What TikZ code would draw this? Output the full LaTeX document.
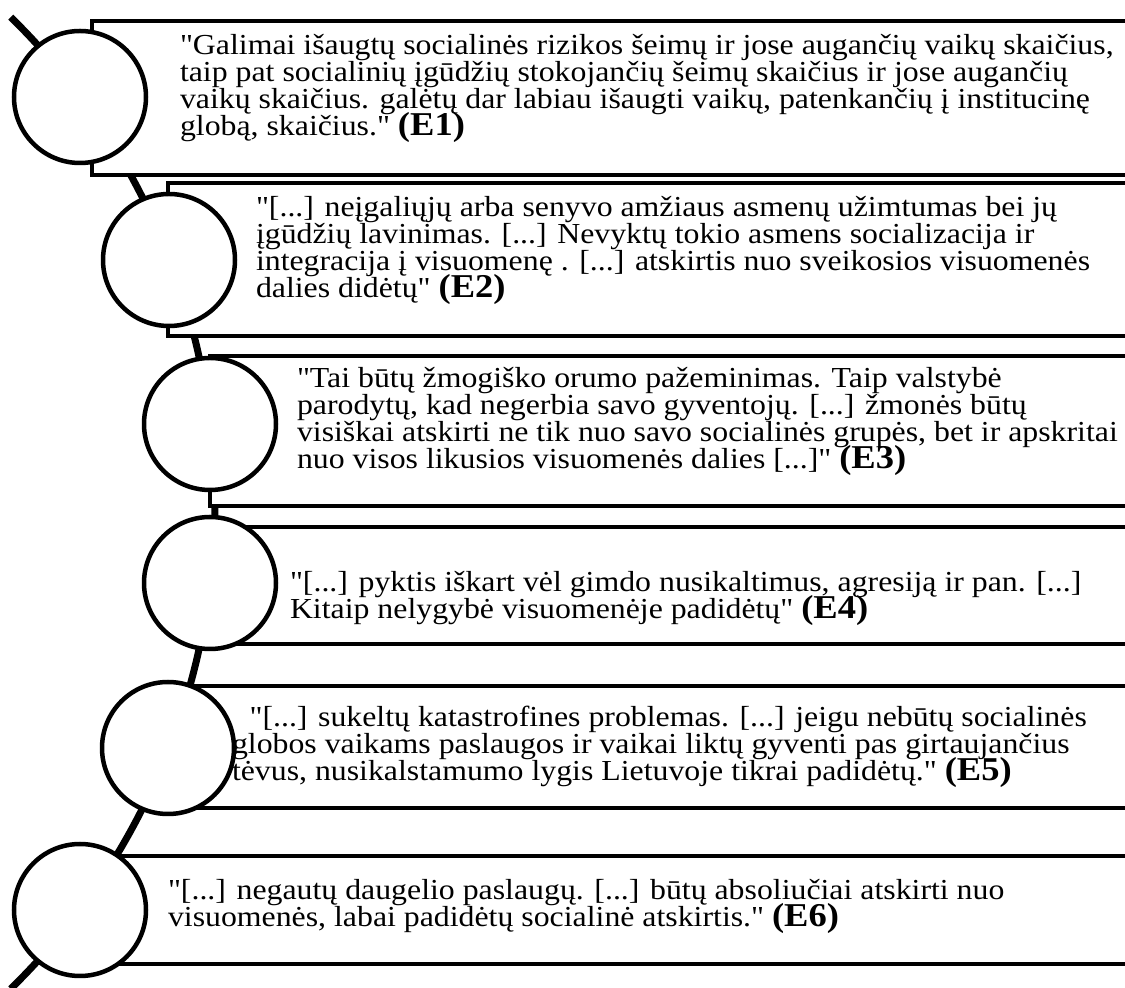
\documentclass[tikz,border=0pt]{standalone}
\usepackage{fontspec}
\newfontfamily\qfont{Liberation Serif}
\usepackage{graphicx}
\newcommand{\quotelines}[1]{\scalebox{1.097}[1]{\vtop{\hsize=1500pt\parindent=0pt\qfont\fontsize{29}{26.7}\selectfont\lineskiplimit=-100pt\lineskip=0pt\relax\leavevmode #1\par}}}
\newcommand{\eref}[1]{{\fontsize{33.3}{26.7}\selectfont\bfseries (#1)}}
\begin{document}
\begin{tikzpicture}[x=1pt,y=1pt,
  spine/.style={line width=7pt},
  quotebox/.style={draw, line width=4pt, fill=white, rectangle, inner sep=0pt, outer sep=0pt, anchor=north west},
  marker/.style={draw, line width=4.5pt, fill=white, circle, inner sep=0pt, outer sep=0pt, minimum size=132pt},
  quote/.style={anchor=base west, inner sep=0pt, outer sep=0pt}]
\useasboundingbox (0,0) rectangle (1125,988);
\clip (0,0) rectangle (1125,988);
\coordinate (spc) at (-465,485);
\draw[spine] (spc) ++(45.6:680pt) arc[start angle=45.6, end angle=-45.6, radius=680pt];
% boxes
\node[quotebox, minimum width=1048pt, minimum height=154pt] (b1) at (92,967) {};
\node[quotebox, minimum width=972pt, minimum height=153pt] (b2) at (168,805) {};
\node[quotebox, minimum width=930pt, minimum height=150pt] (b3) at (210,632) {};
\node[quotebox, minimum width=930pt, minimum height=117pt] (b4) at (210,461) {};
\node[quotebox, minimum width=972pt, minimum height=122pt] (b5) at (168,302) {};
\node[quotebox, minimum width=1048pt, minimum height=108pt] (b6) at (92,132) {};
% circles
\node[marker] (c1) at (80,891) {};
\node[marker] (c2) at (169,728) {};
\node[marker] (c3) at (210,564) {};
\node[marker] (c4) at (210,405) {};
\node[marker] (c5) at (168,240) {};
\node[marker] (c6) at (80,78) {};
% texts
\node[quote] (t1) at (180,933) {\quotelines{"Galimai išaugtų socialinės rizikos šeimų ir jose augančių vaikų skaičius,\\taip pat socialinių įgūdžių stokojančių šeimų skaičius ir jose augančių\\vaikų skaičius. galėtų dar labiau išaugti vaikų, patenkančių į institucinę\\globą, skaičius." \eref{E1}}};
\node[quote] (t2) at (256,771) {\quotelines{"[...] neįgaliųjų arba senyvo amžiaus asmenų užimtumas bei jų\\įgūdžių lavinimas. [...] Nevyktų tokio asmens socializacija ir\\integracija į visuomenę . [...] atskirtis nuo sveikosios visuomenės\\dalies didėtų" \eref{E2}}};
\node[quote] (t3) at (297,600) {\quotelines{"Tai būtų žmogiško orumo pažeminimas. Taip valstybė\\parodytų, kad negerbia savo gyventojų. [...] žmonės būtų\\visiškai atskirti ne tik nuo savo socialinės grupės, bet ir apskritai\\nuo visos likusios visuomenės dalies [...]" \eref{E3}}};
\node[quote] (t4) at (290,396) {\quotelines{"[...] pyktis iškart vėl gimdo nusikaltimus, agresiją ir pan. [...]\\Kitaip nelygybė visuomenėje padidėtų" \eref{E4}}};
\node[quote] (t5) at (232,261) {\quotelines{\hspace*{16pt}"[...] sukeltų katastrofines problemas. [...] jeigu nebūtų socialinės\\globos vaikams paslaugos ir vaikai liktų gyventi pas girtaujančius\\tėvus, nusikalstamumo lygis Lietuvoje tikrai padidėtų." \eref{E5}}};
\node[quote] (t6) at (168,88) {\quotelines{"[...] negautų daugelio paslaugų. [...] būtų absoliučiai atskirti nuo\\visuomenės, labai padidėtų socialinė atskirtis." \eref{E6}}};
\end{tikzpicture}
\end{document}
